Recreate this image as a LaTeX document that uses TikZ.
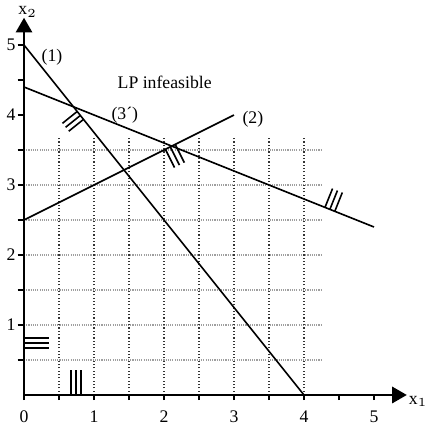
\documentclass[tikz,border=0pt]{standalone}
\usepackage{fontspec}
\setmainfont{Liberation Serif}
\usetikzlibrary{arrows.meta,calc}
\tikzset{
  hgrid/.style={gray!75, line width=0.45pt, dash pattern=on 0.45pt off 0.45pt},
  vgrid/.style={black!80, line width=0.45pt, dash pattern=on 0.45pt off 0.9pt},
  axis/.style={line width=1.1pt, -{Triangle[length=0.21cm,width=0.23cm]}},
  tick/.style={line width=0.6pt},
  cline/.style={line width=0.65pt},
  hatch/.style={line width=0.65pt},
  lbl/.style={inner sep=0pt, font=\fontsize{7.2}{8}\selectfont}
}
\begin{document}
\begin{tikzpicture}[x=1cm,y=1cm]
\useasboundingbox (-0.343,-0.486) rectangle (5.786,5.643);
% grid
\foreach \y in {0.5,1,...,3.5} \draw[hgrid] (0,\y) -- (4.27,\y);
\foreach \x in {0.5,1,...,4} \draw[vgrid] (\x,0) -- (\x,3.7);
% ticks
\foreach \y in {0.5,1,...,5} \draw[tick] (-0.09,\y) -- (0,\y);
\foreach \x in {0,0.5,...,5} \draw[tick] (\x,-0.075) -- (\x,0);
% constraint lines
\coordinate (a1) at (0,5); \coordinate (b1) at (4,0);
\coordinate (a2) at (0,2.5); \coordinate (b2) at (3,4);
\coordinate (a3) at (0,4.4); \coordinate (b3) at (5,2.4);
\draw[cline] (a1) -- (b1);
\draw[cline] (a2) -- (b2);
\draw[cline] (a3) -- (b3);
% hatches
\foreach \x in {0.76,0.805,0.85} \draw[hatch] ($(a1)!\x/4!(b1)$) -- ++(-0.211,-0.169);
\foreach \x in {2.02,2.09,2.16} \draw[hatch] ($(a2)!\x/3!(b2)$) -- ++(0.13,-0.26);
\foreach \x in {4.30,4.37,4.44} \draw[hatch] ($(a3)!\x/5!(b3)$) -- ++(0.108,0.269);
\foreach \y in {0.67,0.74,0.81} \draw[hatch] (0,\y) -- (0.36,\y);
\foreach \x in {0.67,0.74,0.81} \draw[hatch] (\x,0) -- (\x,0.36);
% axes
\coordinate (O) at (0,0);
\coordinate (xend) at (5.47,0);
\coordinate (yend) at (0,5.39);
\draw[axis] (O) -- (xend);
\draw[axis] (O) -- (yend);
% axis labels
\node[lbl, anchor=base west] (xl2) at (-0.086,5.43) {x$_2$};
\node[lbl, anchor=base east] (xl1) at (5.77,-0.13) {x$_1$};
% tick labels
\foreach \v in {1,...,5} \node[lbl] (yt\v) at (-0.186,\v) {\v};
\foreach \v in {0,...,5} \node[lbl] (xt\v) at (\v,-0.314) {\v};
% line labels
\node[lbl] (l1) at (0.4,4.83) {(1)};
\node[lbl] (l3) at (1.44,4.0) {(3´)};
\node[lbl] (l2) at (3.27,3.94) {(2)};
\node[lbl] (inf) at (2.01,4.47) {LP infeasible};
\end{tikzpicture}
\end{document}
